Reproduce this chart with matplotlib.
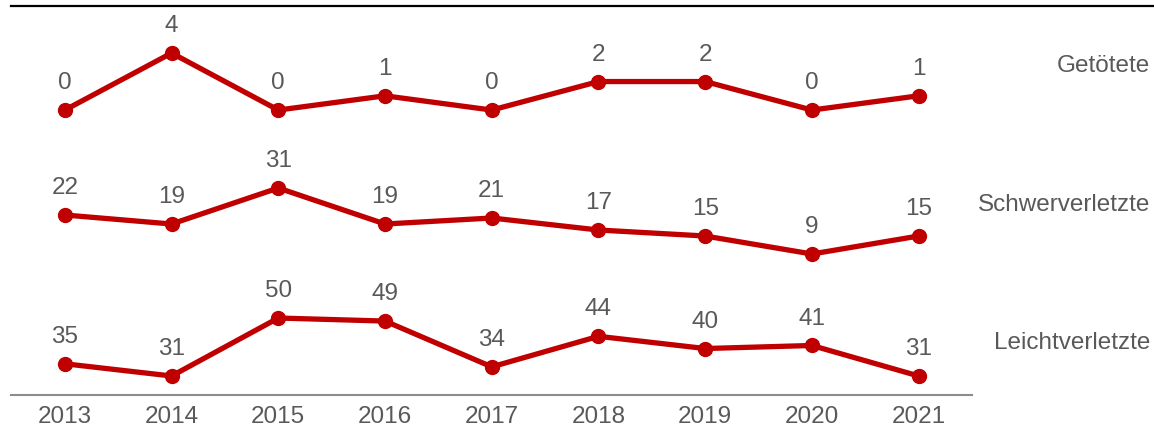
import matplotlib.pyplot as plt
from matplotlib.lines import Line2D

plt.rcParams['font.family'] = ['Liberation Sans', 'DejaVu Sans']

years = ['2013', '2014', '2015', '2016', '2017', '2018', '2019', '2020', '2021']
getoetete = [0, 4, 0, 1, 0, 2, 2, 0, 1]
schwerverletzte = [22, 19, 31, 19, 21, 17, 15, 9, 15]
leichtverletzte = [35, 31, 50, 49, 34, 44, 40, 41, 31]
series_names = ['Getötete', 'Schwerverletzte', 'Leichtverletzte']

RED = '#C00000'
TXT = '#595959'
FS = 17.5
W, H = 1154, 432

fig = plt.figure(figsize=(W / 100, H / 100), dpi=100)

# axes rectangles in pixels (top, bottom) and y-limits per series
panels = [
    (getoetete, (15, 130), (-1.40, 6.67), 66),
    (schwerverletzte, (140, 270), (3.67, 47.0), 205),
    (leichtverletzte, (280, 395), (24.77, 62.46), 343),
]

x = list(range(len(years)))
left, right = 11.5, 972

for i, (vals, (top, bot), ylim, label_y) in enumerate(panels):
    ax = fig.add_axes([left / W, 1 - bot / H, (right - left) / W, (bot - top) / H])
    ax.plot(x, vals, color=RED, lw=3.8, marker='o', ms=10, solid_capstyle='round', clip_on=False)
    for xi, v in zip(x, vals):
        ax.annotate(str(v), (xi, v), xytext=(0, 15), textcoords='offset points',
                    ha='center', va='baseline', fontsize=FS, color=TXT)
    ax.set_xlim(-0.5, 8.5)
    ax.set_ylim(*ylim)
    ax.set_yticks([])
    for s in ['top', 'left', 'right']:
        ax.spines[s].set_visible(False)
    if i < 2:
        ax.spines['bottom'].set_visible(False)
        ax.set_xticks([])
    else:
        ax.spines['bottom'].set_color('#8c8c8c')
        ax.spines['bottom'].set_linewidth(1.5)
        ax.set_xticks(x)
        ax.set_xticklabels(years, fontsize=FS, color=TXT)
        ax.tick_params(axis='x', length=0, pad=8)
    ax.patch.set_alpha(0)
    fig.text(1150 / W, 1 - label_y / H, series_names[i], ha='right', va='center',
             fontsize=FS, color=TXT)

# top rule
fig.add_artist(Line2D([11 / W, 1], [1 - 6 / H, 1 - 6 / H], color='black', lw=1.6))

fig.savefig('out.png', dpi=100)
